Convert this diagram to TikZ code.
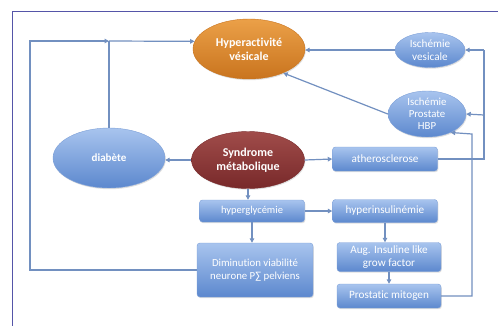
\documentclass[tikz,border=0pt]{standalone}
\usepackage{fontspec}
\setmainfont{Carlito}[Ligatures=NoCommon]
\usetikzlibrary{shapes.geometric,arrows.meta,shadows}
\definecolor{linec}{HTML}{7290C0}
\definecolor{framec}{HTML}{5555A8}
\definecolor{bluetop}{HTML}{A8C4EE}
\definecolor{bluebot}{HTML}{5C88CE}
\definecolor{orangetop}{HTML}{EBA048}
\definecolor{orangebot}{HTML}{C9741E}
\definecolor{redtop}{HTML}{A04C4A}
\definecolor{redbot}{HTML}{78292A}
\begin{document}
\begin{tikzpicture}[x=1pt,y=-1pt,
  txt/.style={text=white, align=center, font=\fontsize{11.2}{13}\selectfont},
  btxt/.style={text=white, align=center, font=\bfseries\fontsize{12}{14}\selectfont},
  shade/.style={drop shadow={shadow xshift=0.8pt, shadow yshift=-1.2pt, opacity=0.25}},
  blueell/.style={ellipse, txt, inner sep=0pt, top color=bluetop, bottom color=bluebot, draw=bluebot!80!white, line width=0.4pt, shade},
  bluebox/.style={rectangle, rounded corners=3pt, txt, inner sep=0pt, top color=bluetop, bottom color=bluebot, draw=bluebot!80!white, line width=0.4pt, shade},
  orangeell/.style={ellipse, btxt, inner sep=0pt, top color=orangetop, bottom color=orangebot, draw=orangebot, line width=0.4pt, shade},
  redell/.style={ellipse, btxt, inner sep=0pt, top color=redtop, bottom color=redbot, draw=redbot, line width=0.4pt, shade},
  plain/.style={draw=linec, line width=1.2pt},
  conn/.style={draw=linec, line width=1.2pt, -{Triangle[length=4.5pt,width=4.5pt]}}
]
\useasboundingbox[fill=white] (0,0) rectangle (498,325);
\draw[framec, line width=1pt] (500,11) -- (12,11) -- (12,327);

% nodes
\node[orangeell, minimum width=112pt, minimum height=60pt] (hv) at (249,49) {Hyperactivité\\vésicale};
\node[blueell, minimum width=70pt, minimum height=35pt] (iv) at (430,50) {Ischémie\\vesicale};
\node[blueell, minimum width=78pt, minimum height=46pt, font=\fontsize{10.8}{12.2}\selectfont] (ip) at (427,114) {Ischémie\\Prostate\\HBP};
\node[redell, minimum width=113pt, minimum height=57pt] (sm) at (248,160) {Syndrome\\métabolique};
\node[blueell, minimum width=112pt, minimum height=60pt, font=\bfseries\fontsize{11}{13}\selectfont] (diab) at (109,158) {diabète};
\node[bluebox, minimum width=105pt, minimum height=24pt] (ath) at (385,159) {atherosclerose};
\node[bluebox, minimum width=105pt, minimum height=22pt, font=\fontsize{10.5}{12}\selectfont] (hg) at (252,211) {hyperglycémie};
\node[bluebox, minimum width=105pt, minimum height=23pt] (hi) at (385,211) {hyperinsulinémie};
\node[bluebox, minimum width=116pt, minimum height=54pt, font=\fontsize{10.8}{13}\selectfont] (dim) at (255,270) {Diminution viabilité\\neurone P∑ pelviens};
\node[bluebox, minimum width=104pt, minimum height=29pt] (aug) at (389,257) {Aug. Insuline like\\grow factor};
\node[bluebox, minimum width=104pt, minimum height=24pt] (pm) at (389,296) {Prostatic mitogen};

% helper coordinates
\coordinate (j) at (109,41);
\coordinate (tl) at (30,41);
\coordinate (rx) at (484,50);
\coordinate (ipr) at (484,115);
\coordinate (mx) at (472,134);

% connectors
\draw[plain] (diab.north) -- (j);
\draw[conn] (j) -- (hv.172);
\draw[conn] (dim.west) -| (tl) -- (j);
\draw[conn] (sm.west) -- (sm.west -| diab.east);
\draw[conn] (sm.east) -- (ath.west);
\draw[conn] (sm.south) -- (sm.south |- hg.north);
\draw[conn] (hg.east) -- (hi.west);
\draw[conn] (hg.south) -- (hg.south |- dim.north);
\draw[conn] (hi.south) -- (hi.south |- aug.north);
\draw[conn] (aug.south) -- (aug.south |- pm.north);
\draw[conn] (pm.east) -| (mx) -- (ip.-38);
\draw[plain] (ath.east) -| (rx);
\draw[conn] (rx) -- (iv.east);
\draw[conn] (ipr) -- (ip.east);
\draw[conn] (iv.west) -- (iv.west -| hv.east);
\draw[conn] (ip.west) -- (hv.-35);
\end{tikzpicture}
\end{document}
